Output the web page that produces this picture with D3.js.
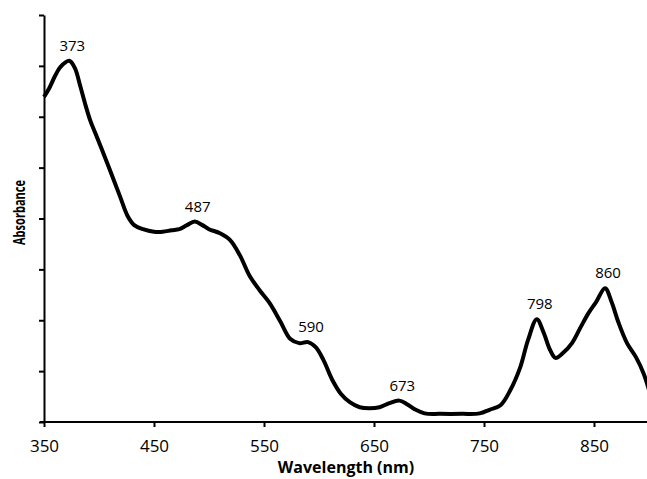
<!DOCTYPE html>
<html><head><meta charset="utf-8">
<script src="https://cdn.jsdelivr.net/npm/d3@7"></script>
<style>html,body{margin:0;padding:0;background:#fff;overflow:hidden}</style>
</head><body>
<svg id="c" width="647" height="479"></svg>
<script>
const wavelengths = [350,355,360,365,373,378,383,388,392,397,402,410,419,426,432,440,450,458,466,473,480,487,494,500,510,519,528,537,546,555,565,574,582,590,597,604,612,620,628,637,646,655,664,673,680,688,696,710,730,746,755,765,774,783,790,798,804,810,815,822,830,838,845,852,860,866,872,880,888,895,900];
const absorbance = [6.39,6.57,6.80,6.98,7.10,6.96,6.60,6.21,5.93,5.66,5.39,4.95,4.44,4.05,3.87,3.79,3.74,3.74,3.77,3.79,3.87,3.94,3.87,3.79,3.71,3.58,3.28,2.87,2.59,2.34,1.97,1.63,1.55,1.57,1.47,1.22,0.83,0.55,0.39,0.29,0.27,0.29,0.37,0.42,0.35,0.24,0.17,0.16,0.16,0.17,0.24,0.33,0.63,1.08,1.61,2.02,1.77,1.42,1.26,1.36,1.55,1.87,2.14,2.36,2.63,2.36,1.97,1.55,1.28,0.96,0.63];
const peakLabels = [373,487,590,673,798,860];
const xTicks = [350,450,550,650,750,850];
const yTicks = [0,1,2,3,4,5,6,7,8];

const data = wavelengths.map((w,i)=>({w, a: absorbance[i]}));
const svg = d3.select("#c");
const x = d3.scaleLinear().domain([350,900]).range([44,649]);
const y = d3.scaleLinear().domain([0,8]).range([422,15]);
const font = "'Open Sans', sans-serif";

// axes
const xAxis = svg.append("g").attr("transform","translate(0,422)")
  .call(d3.axisBottom(x).tickValues(xTicks).tickSize(5).tickSizeOuter(0).tickPadding(13));
xAxis.select(".domain").attr("stroke","#000").attr("stroke-width",2).attr("d","M40,0H647");
xAxis.selectAll(".tick line").attr("stroke","#000").attr("stroke-width",2);
xAxis.selectAll(".tick text").attr("font-family",font).attr("font-size",17).attr("fill","#000");

const yAxis = svg.append("g").attr("transform","translate(44,0)")
  .call(d3.axisLeft(y).tickValues(yTicks).tickSize(5).tickSizeOuter(0).tickFormat(""));
yAxis.select(".domain").attr("stroke","#000").attr("stroke-width",2);
yAxis.selectAll(".tick line").attr("stroke","#000").attr("stroke-width",2);

// line
const line = d3.line().x(d=>x(d.w)).y(d=>y(d.a)).curve(d3.curveCatmullRom.alpha(0.5));
svg.append("path").datum(data).attr("d",line).attr("fill","none")
  .attr("stroke","#000").attr("stroke-width",4).attr("stroke-linejoin","round");

// peak labels
const valueAt = w => { const i = d3.bisectLeft(wavelengths,w); return absorbance[Math.min(i,absorbance.length-1)]; };
svg.append("g").selectAll("text").data(peakLabels).join("text")
  .attr("x",d=>x(d)+3).attr("y",d=>y(valueAt(d))-10)
  .attr("text-anchor","middle").attr("font-family",font).attr("font-size",15).attr("fill","#000")
  .text(d=>d);

// titles
svg.append("text").attr("x",346).attr("y",473).attr("text-anchor","middle")
  .attr("font-family",font).attr("font-weight","bold").attr("font-size",16).text("Wavelength (nm)");
svg.append("text").attr("transform","translate(25,212.5) rotate(-90)").attr("text-anchor","middle")
  .attr("font-family",font).attr("font-weight","bold").attr("font-size",16.5)
  .attr("textLength",65).attr("lengthAdjust","spacingAndGlyphs").text("Absorbance");
</script>
</body></html>
